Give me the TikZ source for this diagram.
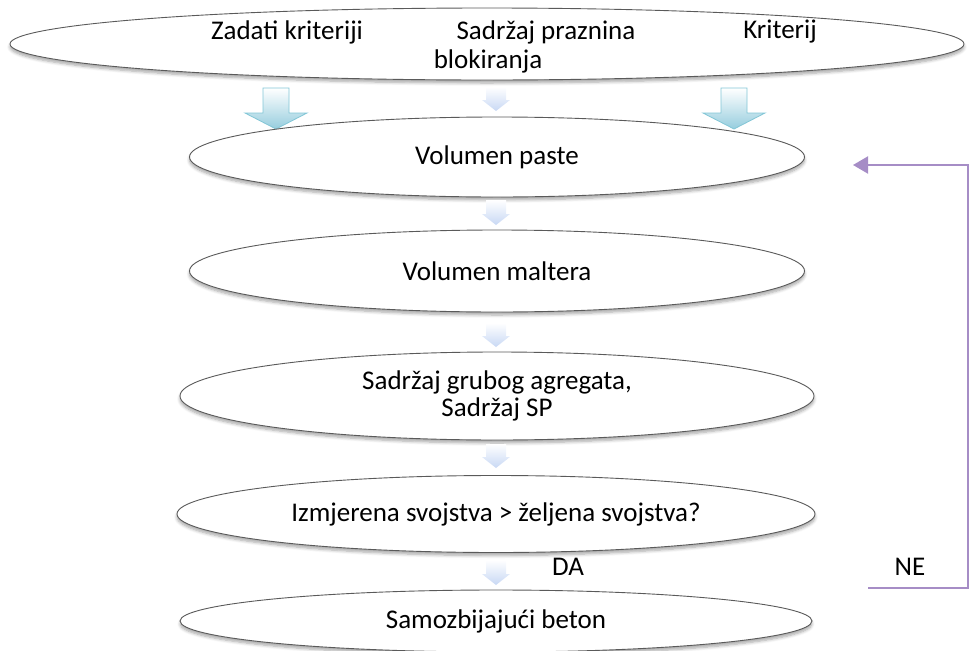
\documentclass[tikz,border=0pt]{standalone}
\usepackage{fontspec}
\setmainfont{Carlito}
\usetikzlibrary{shapes.geometric,shadows.blur,arrows.meta}
\definecolor{ovalline}{RGB}{90,90,90}
\definecolor{fbviolet}{RGB}{166,141,198}
\definecolor{paleblue}{RGB}{200,216,244}
\definecolor{tealblue}{RGB}{150,205,222}
\definecolor{tealline}{RGB}{130,198,214}

\tikzset{
  oval/.style={ellipse, draw=ovalline, line width=0.9pt, fill=white, inner sep=0pt,
    blur shadow={shadow xshift=0pt, shadow yshift=-3pt, shadow blur steps=6, shadow blur radius=3pt, shadow opacity=35}},
  lbl/.style={font=\fontsize{27}{27}\selectfont, align=center, inner sep=0pt},
  smallarrow/.style={top color=white, bottom color=paleblue, draw=none},
  bigarrow/.style={top color=white, bottom color=tealblue, draw=tealline, line width=0.8pt},
  feedback/.style={draw=fbviolet, line width=2pt, -{Triangle[length=15pt,width=17pt]}}
}

\begin{document}
\begin{tikzpicture}[x=1pt,y=-1pt]
        \useasboundingbox (0,0) rectangle (970,651);
        \node [oval,minimum width=954pt,minimum height=72pt] (crit) at (487,44) {};
        \node [lbl] (zadati) at (287,32) {Zadati kriteriji};
        \node [lbl] (praznina) at (546,32) {Sadržaj praznina};
        \node [lbl] (kriterij) at (780,32) {Kriterij};
        \node [lbl] (blok) at (488,61) {blokiranja};
        \foreach \x in {276,734}
            \path [bigarrow] (\x-13,88) -- (\x+13,88) -- (\x+13,113) -- (\x+31,113) -- (\x,129) -- (\x-31,113) -- (\x-13,113) -- cycle;
        \node [oval,minimum width=615pt,minimum height=80pt,label={[lbl]center:Volumen paste}] (paste) at (497,157) {};
        \node [oval,minimum width=615pt,minimum height=82pt,label={[lbl]center:Volumen maltera}] (malter) at (497,271) {};
        \node [oval,minimum width=634pt,minimum height=88pt,label={[lbl]center:Sadržaj grubog agregata,\\Sadržaj SP}] (agregat) at (497,396) {};
        \node [oval,minimum width=638pt,minimum height=77pt,label={[lbl]center:Izmjerena svojstva > željena svojstva?}] (svojstva) at (496,514) {};
        \node [oval,minimum width=632pt,minimum height=62pt,label={[lbl]center:Samozbijajući beton}] (beton) at (496,621) {};
        \foreach \x/\ya/\yb in {496/87/111,496/200/225,496/323/347,496/444/468,496/560/585}
            \path [smallarrow] (\x-10,\ya) -- (\x+10,\ya) -- (\x+10,\yb-11) -- (\x+14,\yb-11) -- (\x,\yb) -- (\x-14,\yb-11) -- (\x-10,\yb-11) -- cycle;
        \node [lbl] (da) at (568,567) {DA};
        \node [lbl] (ne) at (910,567) {NE};
        \coordinate (nepoc) at (868,588);
        \coordinate (nekut) at (968,588);
        \coordinate (nekraj) at (853,165);
        \draw [feedback] (nepoc) -- (nekut) |- (nekraj);
    \end{tikzpicture}
\end{document}
